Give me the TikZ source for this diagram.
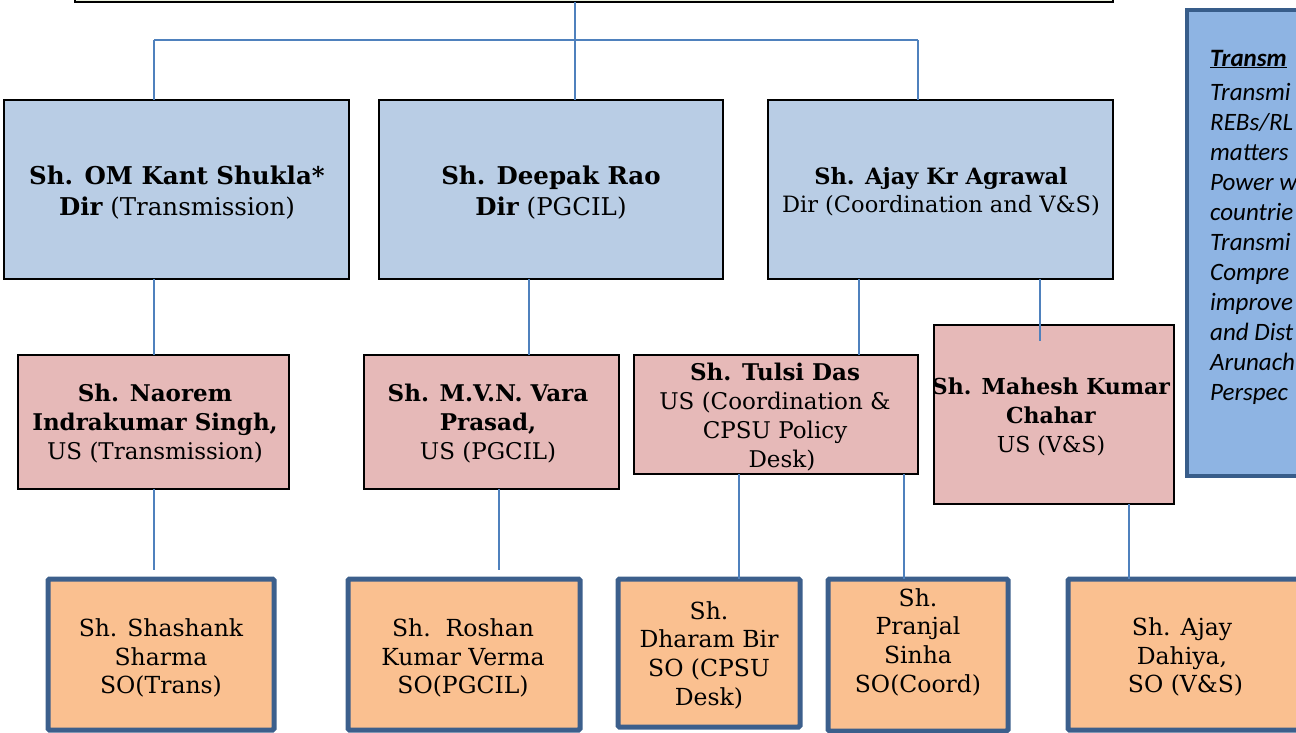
\documentclass[tikz,border=0pt]{standalone}
\usepackage{fontspec}
\setmainfont{DejaVu Serif}
\newfontfamily\panelfont{Carlito}
\definecolor{topfill}{HTML}{EBF1DE}
\definecolor{dirfill}{HTML}{B9CDE5}
\definecolor{usfill}{HTML}{E6B9B8}
\definecolor{sofill}{HTML}{FAC090}
\definecolor{soedge}{HTML}{3C5F8C}
\definecolor{conn}{HTML}{4F81BD}
\definecolor{panelfill}{HTML}{8EB4E3}
\definecolor{paneledge}{HTML}{385D8A}
\tikzset{
  boxbase/.style={rectangle, inner sep=0pt, outer sep=0pt},
  dirbox/.style={boxbase, draw=black, line width=2.2pt, fill=dirfill},
  usbox/.style={boxbase, draw=black, line width=2.2pt, fill=usfill},
  sobox/.style={boxbase, draw=soedge, line width=5pt, fill=sofill, rounded corners=1.5pt},
  topbox/.style={boxbase, draw=black, line width=2.2pt, fill=topfill},
  panelbox/.style={boxbase, draw=paneledge, line width=4pt, fill=panelfill},
  txt/.style={inner sep=0pt, align=center, text=black},
  dirtxt/.style={txt, font=\fontsize{24.5}{31}\selectfont},
  ustxt/.style={txt, font=\fontsize{23}{29}\selectfont},
  sotxt/.style={txt, font=\fontsize{23.5}{28.7}\selectfont},
  link/.style={draw=conn, line width=2pt}
}
\begin{document}
\begin{tikzpicture}[x=1pt, y=-1pt]
\useasboundingbox (0,0) rectangle (1296,732);
\clip (0,0) rectangle (1296,732);
% top box
\node[topbox, minimum width=1038pt, minimum height=62pt] (top) at (594,-29) {};
% director boxes
\node[dirbox, minimum width=345pt, minimum height=179pt] (d1) at (176.5,189.5) {};
\node[dirbox, minimum width=344pt, minimum height=179pt] (d2) at (551,189.5) {};
\node[dirbox, minimum width=345pt, minimum height=179pt] (d3) at (940.5,189.5) {};
% US boxes
\node[usbox, minimum width=271pt, minimum height=134pt] (u1) at (153.5,422) {};
\node[usbox, minimum width=255pt, minimum height=134pt] (u2) at (491.5,422) {};
\node[usbox, minimum width=284pt, minimum height=119pt] (u3) at (776,414.5) {};
\node[usbox, minimum width=240pt, minimum height=179pt] (u4) at (1054,414.5) {};
% SO boxes
\node[sobox, minimum width=226pt, minimum height=151pt] (s1) at (161,654.5) {};
\node[sobox, minimum width=232pt, minimum height=151pt] (s2) at (464,654.5) {};
\node[sobox, minimum width=182pt, minimum height=148pt] (s3) at (709,653) {};
\node[sobox, minimum width=180pt, minimum height=152pt] (s4) at (918,655) {};
\node[sobox, minimum width=252pt, minimum height=151pt] (s5) at (1194,654.5) {};
% right panel
\node[panelbox, minimum width=153pt, minimum height=466pt] (panel) at (1263.5,243) {};

% connectors
\coordinate (hub) at (575,40);
\coordinate (hl) at (154,40);
\coordinate (hr) at (918,40);
\draw[link] ([xshift=500pt]top.south west) -- (hub);
\draw[link] (hl) -- (hr);
\draw[link] (hl) -- ([xshift=150pt]d1.north west);
\draw[link] (hub) -- ([xshift=196pt]d2.north west);
\draw[link] (hr) -- ([xshift=150pt]d3.north west);
\draw[link] ([xshift=150pt]d1.south west) -- ([xshift=136pt]u1.north west);
\draw[link] ([xshift=150pt]d2.south west) -- ([xshift=165pt]u2.north west);
\draw[link] ([xshift=91pt]d3.south west) -- ([xshift=225pt]u3.north west);
\coordinate (u4in) at (1040,341);
\draw[link] ([xshift=272pt]d3.south west) -- (u4in);
\coordinate (s1top) at (154,570);
\coordinate (s2top) at (499,570);
\draw[link] ([xshift=136pt]u1.south west) -- (s1top);
\draw[link] ([xshift=135pt]u2.south west) -- (s2top);
\draw[link] ([xshift=105pt]u3.south west) -- ([xshift=121pt]s3.north west);
\draw[link] ([xshift=270pt]u3.south west) -- ([xshift=76pt]s4.north west);
\draw[link] ([xshift=195pt]u4.south west) -- ([xshift=61pt]s5.north west);

% director texts
\node[dirtxt] (t1) at (177,193) {\bfseries Sh. OM Kant Shukla*\\{\bfseries Dir} (Transmission)};
\node[dirtxt] (t2) at (551,193) {\bfseries Sh. Deepak Rao\\{\bfseries Dir} (PGCIL)};
\node[txt, font=\fontsize{22.5}{28}\selectfont] (t3) at (941,192) {{\bfseries Sh. Ajay Kr Agrawal}\\Dir (Coordination and V\&S)};
% US texts
\node[ustxt] (tu1) at (155,424) {{\bfseries Sh. Naorem}\\{\bfseries Indrakumar Singh,}\\US (Transmission)};
\node[ustxt] (tu2) at (488,424) {{\bfseries Sh. M.V.N. Vara}\\{\bfseries Prasad,}\\US (PGCIL)};
\node[ustxt] (tu3) at (775,417) {{\bfseries Sh. Tulsi Das}\\US (Coordination \&\\CPSU Policy\\\hspace*{0.6em}Desk)};
\node[txt, font=\fontsize{22}{29}\selectfont] (tu4) at (1051,417) {{\bfseries Sh. Mahesh Kumar}\\{\bfseries Chahar}\\US (V\&S)};
% SO texts
\node[sotxt] (ts1) at (161,658) {Sh. Shashank\\Sharma\\SO(Trans)};
\node[sotxt] (ts2) at (463,658) {Sh.\ \ Roshan\\Kumar Verma\\SO(PGCIL)};
\node[sotxt] (ts3) at (709,655) {Sh.\\Dharam Bir\\SO (CPSU\\Desk)};
\node[sotxt] (ts4) at (918,642) {Sh.\\Pranjal\\Sinha\\SO(Coord)};
\node[sotxt] (ts5) at (1182,657) {Sh. Ajay\\Dahiya,\\\hspace*{0.3em}SO (V\&S)};
% panel text
\node[inner sep=0pt, anchor=base west, font=\panelfont\fontsize{25}{30}\selectfont\bfseries\itshape] (ptitle) at (1210,66) {\underline{Transm}};
\node[inner sep=0pt, anchor=north west, align=left, font=\panelfont\fontsize{25}{30}\selectfont\itshape] (pbody) at ([yshift=-15pt]ptitle.south west) {Transmi\\REBs/RL\\matters\\Power w\\countrie\\Transmi\\Compre\\improve\\and Dist\\Arunach\\Perspec};
\end{tikzpicture}
\end{document}
